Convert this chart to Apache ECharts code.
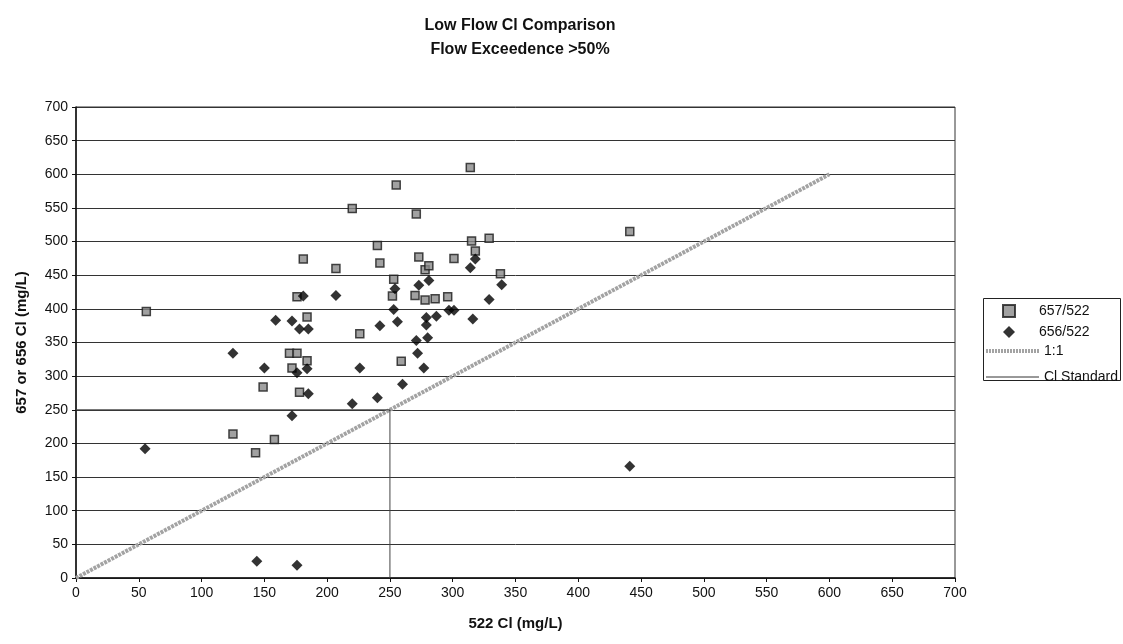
<!DOCTYPE html>
<html>
<head>
<meta charset="utf-8">
<script src="https://cdn.jsdelivr.net/npm/echarts@6/dist/echarts.min.js"></script>
<style>html,body{margin:0;padding:0;background:#fff}#c{width:1123px;height:644px}</style>
</head>
<body>
<div id="c"></div>
<script>
// 657/522 points [522 Cl, 657 Cl]
var s657 = [
  [56,396],[125,214],[143,186],[149,284],[158,206],[170,334],[176,334],[172,312],
  [178,276],[184,323],[184,388],[176,418],[181,474],[207,460],[220,549],[240,494],
  [242,468],[226,363],[252,419],[253,444],[255,584],[259,322],[271,541],[270,420],
  [273,477],[278,458],[281,464],[278,413],[286,415],[296,418],[301,475],[314,610],
  [315,501],[318,486],[329,505],[338,452],[441,515]
];
// 656/522 points [522 Cl, 656 Cl]
var s656 = [
  [55,192],[125,334],[144,25],[150,312],[159,383],[172,382],[172,241],[176,305],
  [176,19],[178,370],[181,419],[184,311],[185,274],[185,370],[207,420],[220,259],
  [226,312],[240,268],[242,375],[253,399],[254,430],[256,381],[260,288],[271,353],
  [272,334],[273,435],[277,312],[279,376],[279,387],[280,357],[281,442],[287,389],
  [297,398],[301,398],[314,461],[316,385],[318,474],[329,414],[339,436],[441,166]
];
var oneToOne = [[0,0],[600,600]];
var clStandard = [[0,250],[250,250],[250,0]];
var seriesNames = ['657/522','656/522','1:1','Cl Standard'];
var titleLines = ['Low Flow Cl Comparison','Flow Exceedence >50%'];
var xName = '522 Cl (mg/L)';
var yName = '657 or 656 Cl (mg/L)';

var chart = echarts.init(document.getElementById('c'), null, {renderer:'canvas'});
var font = 'Liberation Sans, Arial, sans-serif';
var hatch = '#a3a3a3';
chart.setOption({
  animation: false,
  backgroundColor: '#fff',
  textStyle: {fontFamily: font},
  title: {
    text: titleLines.join('\n'),
    left: 515, top: 9, textAlign: 'center',
    textStyle: {fontSize: 16, fontWeight: 'bold', color: '#111', lineHeight: 24, fontFamily: font}
  },
  grid: {left: 76, right: 168, top: 107, bottom: 66, show: true, borderColor: '#333', borderWidth: 1},
  graphic: [{
    type: 'rect', left: 983, top: 298, z: 0,
    shape: {width: 137, height: 82},
    style: {fill: '#fff', stroke: '#222', lineWidth: 1}
  }],
  legend: [{
    orient: 'vertical', left: 1002, top: 303, padding: 0, itemGap: 5,
    itemWidth: 12, itemHeight: 12, z: 5,
    textStyle: {fontSize: 14, lineHeight: 16, color: '#111', fontFamily: font, padding: [0,0,0,19]},
    data: [seriesNames[0], seriesNames[1]]
  }, {
    orient: 'vertical', left: 984, top: 343, padding: 0, itemGap: 10,
    itemWidth: 53, itemHeight: 10, z: 5,
    textStyle: {fontSize: 14, lineHeight: 16, color: '#111', fontFamily: font},
    data: [
      {name: seriesNames[2], itemStyle: {opacity: 0}, lineStyle: {color: hatch, width: 4, type: [2, 1]}},
      {name: seriesNames[3], itemStyle: {opacity: 0}, lineStyle: {color: '#333', width: 1}}
    ]
  }],
  xAxis: {
    type: 'value', min: 0, max: 700, interval: 50,
    name: xName, nameLocation: 'middle', nameGap: 38,
    nameTextStyle: {fontSize: 15, fontWeight: 'bold', color: '#111'},
    axisLine: {show: true, lineStyle: {color: '#111', width: 1.5}},
    axisTick: {show: true, length: 4, lineStyle: {color: '#111'}},
    axisLabel: {fontSize: 14, color: '#111', margin: 8},
    splitLine: {show: false}
  },
  yAxis: {
    type: 'value', min: 0, max: 700, interval: 50,
    name: yName, nameLocation: 'middle', nameGap: 47, nameRotate: 90,
    nameTextStyle: {fontSize: 15, fontWeight: 'bold', color: '#111'},
    axisLine: {show: true, lineStyle: {color: '#111', width: 1.5}},
    axisTick: {show: true, length: 4, lineStyle: {color: '#111'}},
    axisLabel: {fontSize: 14, color: '#111', margin: 8},
    splitLine: {show: true, lineStyle: {color: '#333', width: 1}}
  },
  series: [
    {
      name: seriesNames[2], type: 'line', data: oneToOne, symbol: 'none', z: 1,
      lineStyle: {color: hatch, width: 4, type: [3, 1]},
      itemStyle: {color: hatch}
    },
    {
      name: seriesNames[3], type: 'line', data: clStandard, symbol: 'none', z: 1,
      lineStyle: {color: '#444', width: 1},
      itemStyle: {color: '#444'}
    },
    {
      name: seriesNames[0], type: 'scatter', data: s657, symbol: 'rect', symbolSize: 8, z: 3,
      itemStyle: {color: '#8a8a8a', borderColor: '#1a1a1a', borderWidth: 1.5}
    },
    {
      name: seriesNames[1], type: 'scatter', data: s656, symbol: 'diamond', symbolSize: 11, z: 4,
      itemStyle: {color: '#000'}
    }
  ]
});
</script>
</body>
</html>
